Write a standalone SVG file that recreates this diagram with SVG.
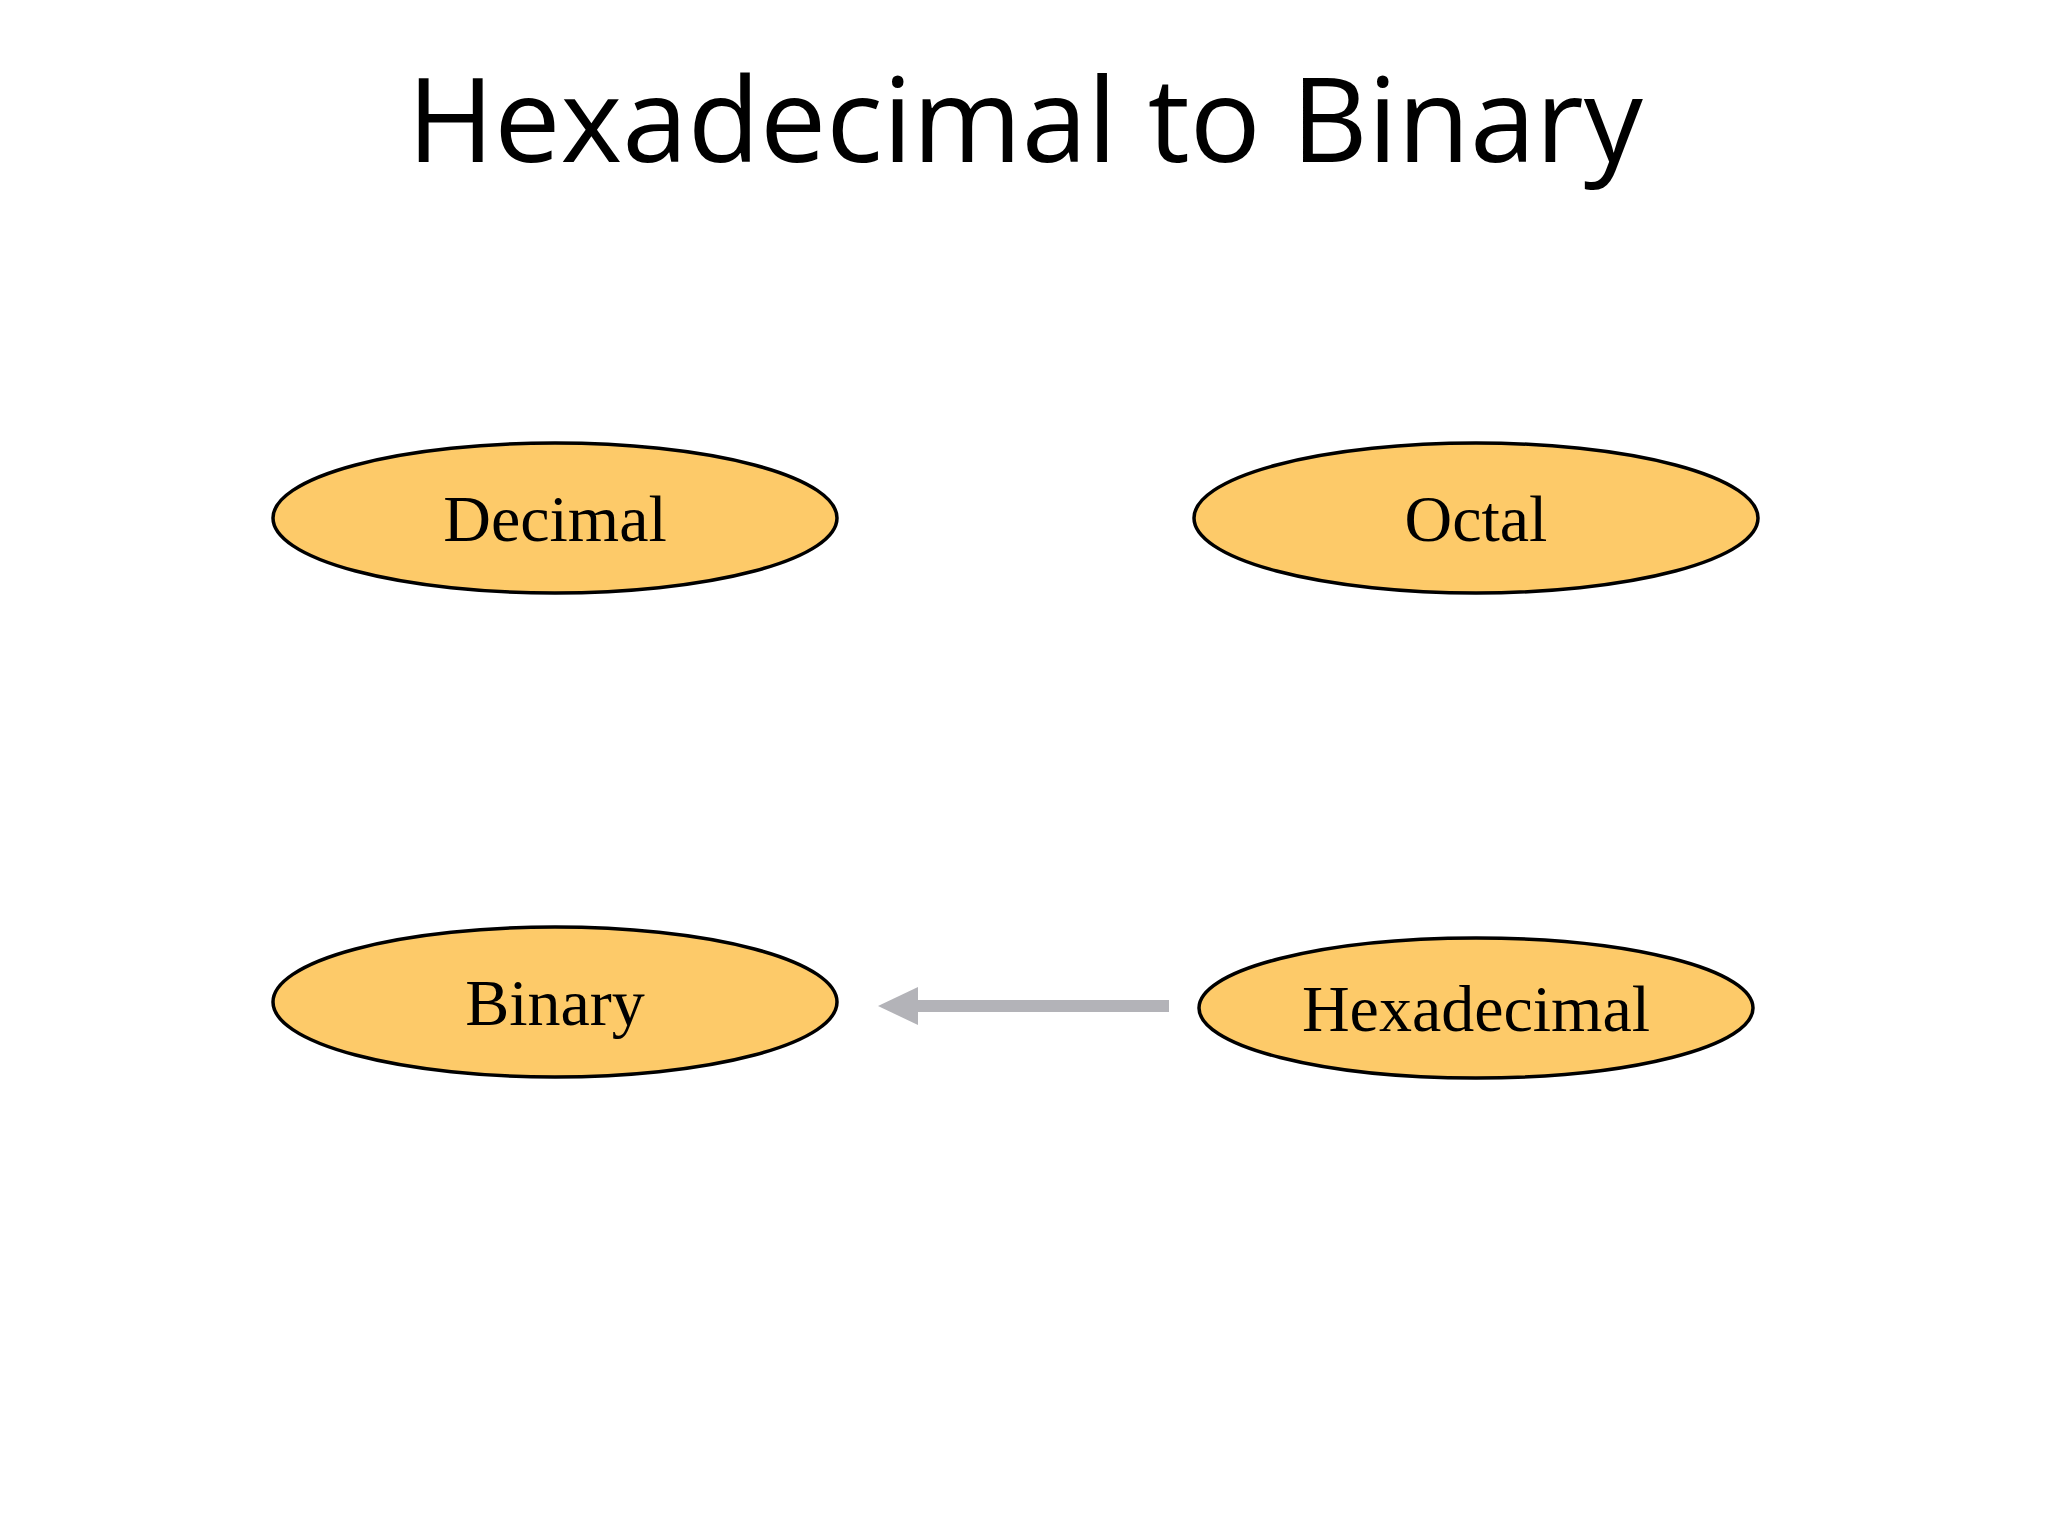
<svg xmlns="http://www.w3.org/2000/svg" width="2048" height="1536" viewBox="0 0 2048 1536">
<style>
.n{fill:#fdca69;stroke:#000;stroke-width:3.5}
.t{font-family:"Liberation Serif",serif;font-size:66px;text-anchor:middle;fill:#000}
</style>
<rect width="2048" height="1536" fill="#fff"/>
<text x="1025" y="162" font-family="Open Sans, Liberation Sans, sans-serif" font-size="118" text-anchor="middle" fill="#000">Hexadecimal to Binary</text>
<g id="connectors">
<line x1="1169" y1="1006" x2="912" y2="1006" stroke="#b3b3b8" stroke-width="12"/>
<polygon points="878,1006 918,987 918,1025" fill="#b3b3b8"/>
</g>
<g id="decimal"><ellipse class="n" cx="555" cy="518" rx="282" ry="75"/><text class="t" x="555" y="541">Decimal</text></g>
<g id="octal"><ellipse class="n" cx="1476" cy="518" rx="282" ry="75"/><text class="t" x="1476" y="541">Octal</text></g>
<g id="binary"><ellipse class="n" cx="555" cy="1002" rx="282" ry="75"/><text class="t" x="555" y="1025">Binary</text></g>
<g id="hexadecimal"><ellipse class="n" cx="1476" cy="1008" rx="277" ry="70"/><text class="t" x="1476" y="1031">Hexadecimal</text></g>
</svg>
